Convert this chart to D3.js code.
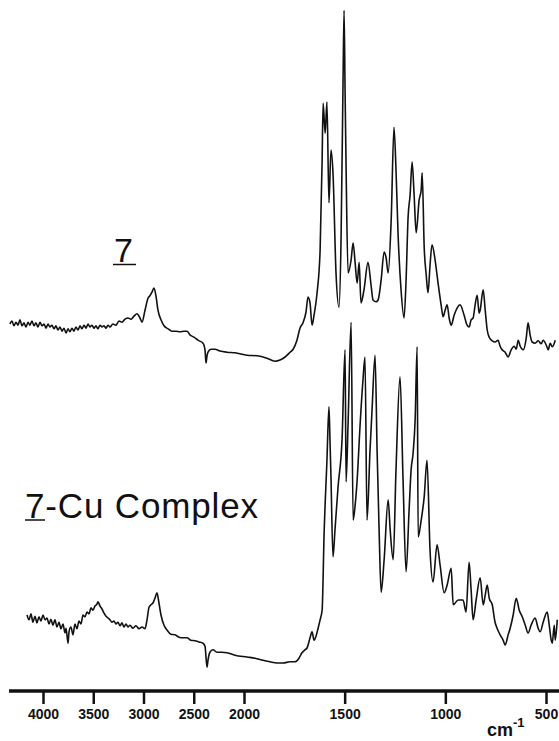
<!DOCTYPE html>
<html><head><meta charset="utf-8">
<script src="https://cdn.jsdelivr.net/npm/d3@7/dist/d3.min.js"></script>
<style>body{margin:0;background:#fff}svg{display:block}</style>
</head><body>
<svg id="chart" width="559" height="741"></svg>
<script>
// Tick labels (cm-1)
const wavenumberTicks = [4000, 3500, 3000, 2500, 2000, 1500, 1000, 500];
const axisBreaks = [4000, 2000, 500];
const axisExtent = [4338, 432];

// Series labels
const seriesLabels = ["7", "7-Cu Complex"];

// Spectrum of 7: [wavenumber cm-1, intensity (arb. units, offset)]
const spectrum7 = [
[4329,61.0],[4309,61.5],[4289,60.7],[4269,61.3],[4249,60.8],[4229,61.7],[4209,60.7],[4189,61.2],
[4169,60.5],[4149,61.3],[4130,60.8],[4110,61.5],[4090,60.7],[4070,61.2],[4050,60.5],[4030,61.3],
[4010,60.7],[3990,61.0],[3970,60.3],[3950,61.0],[3931,60.5],[3911,60.8],[3891,60.2],[3871,60.7],
[3851,60.0],[3831,60.5],[3811,59.8],[3791,60.3],[3771,59.5],[3751,60.2],[3732,59.7],[3712,60.3],
[3692,59.8],[3672,60.5],[3652,60.0],[3632,60.7],[3612,60.2],[3592,60.8],[3572,60.3],[3552,61.0],
[3533,60.5],[3513,60.8],[3493,60.3],[3473,60.7],[3453,60.2],[3433,60.8],[3413,60.5],[3393,60.7],
[3373,60.3],[3353,60.8],[3334,60.5],[3304,61.0],[3274,60.8],[3244,61.5],[3214,61.3],[3184,61.8],
[3154,62.0],[3124,61.8],[3095,62.3],[3065,62.7],[3035,62.0],[3015,61.3],[2985,63.3],[2955,65.3],
[2936,65.7],[2916,66.3],[2896,67.0],[2876,65.7],[2856,63.3],[2826,61.7],[2796,60.7],[2756,60.2],
[2717,59.8],[2677,59.8],[2637,59.7],[2597,59.8],[2567,59.8],[2538,59.2],[2498,58.8],[2458,58.3],
[2408,57.8],[2388,56.7],[2378,54.5],[2368,55.7],[2358,56.3],[2329,56.8],[2289,56.8],[2239,56.5],
[2169,56.3],[2090,56.2],[1985,55.8],[1935,55.7],[1886,55.3],[1846,54.8],[1821,55.0],[1796,55.5],
[1771,56.3],[1756,56.8],[1737,58.3],[1722,60.3],[1707,61.2],[1692,63.0],[1682,65.5],[1672,64.5],
[1662,60.8],[1652,62.5],[1637,66.2],[1622,73.3],[1612,88.3],[1607,97.8],[1597,92.8],[1588,98.0],
[1578,81.2],[1568,90.0],[1558,86.2],[1543,69.5],[1528,63.8],[1518,75.0],[1508,101.7],[1503,113.3],
[1498,100.0],[1493,87.2],[1483,69.5],[1468,71.7],[1458,74.5],[1448,71.2],[1438,67.8],[1428,71.3],
[1419,64.5],[1404,66.7],[1384,71.3],[1369,67.5],[1359,65.0],[1344,64.7],[1334,65.0],[1319,68.3],
[1304,73.0],[1294,72.0],[1284,69.5],[1269,78.3],[1255,93.8],[1245,86.7],[1235,76.2],[1220,66.7],
[1205,62.0],[1195,68.3],[1185,78.8],[1175,82.5],[1165,88.0],[1155,82.5],[1145,76.2],[1130,81.7],
[1120,83.3],[1115,86.2],[1105,73.8],[1095,69.2],[1086,66.2],[1076,70.8],[1066,74.2],[1051,71.7],
[1036,67.8],[1021,64.2],[1011,62.2],[1001,63.3],[991,64.2],[981,62.0],[971,60.8],[956,62.5],
[941,63.7],[927,64.2],[907,62.5],[892,60.8],[882,60.5],[872,61.7],[862,62.0],[852,64.2],
[842,65.8],[832,62.8],[827,63.3],[812,66.7],[802,63.3],[792,60.0],[782,58.8],[767,58.2],
[753,58.0],[738,58.3],[728,57.3],[718,56.7],[703,56.3],[688,55.5],[673,56.7],[658,57.3],
[648,56.8],[638,58.3],[628,57.3],[613,56.7],[598,58.7],[589,61.2],[579,59.2],[569,58.0],
[554,57.8],[539,58.2],[524,57.7],[514,58.3],[499,57.5],[489,56.7],[479,57.8],[469,57.2],[454,58.3]
];

// Spectrum of the 7-Cu complex: [wavenumber cm-1, intensity (arb. units, offset)]
const spectrumCu = [
[4159,12.5],[4139,11.7],[4120,12.7],[4100,11.3],[4080,12.3],[4060,11.2],[4040,12.2],[4020,11.5],
[4000,12.5],[3980,11.7],[3960,12.0],[3940,11.0],[3921,11.8],[3901,10.8],[3881,11.7],[3861,10.5],
[3841,11.3],[3821,10.2],[3801,11.0],[3781,9.5],[3771,10.3],[3751,7.8],[3741,9.7],[3722,10.5],
[3702,9.2],[3682,11.0],[3662,10.2],[3642,11.5],[3622,11.0],[3602,12.5],[3582,12.2],[3562,13.0],
[3542,12.7],[3523,13.7],[3503,13.3],[3483,14.0],[3463,14.3],[3453,14.7],[3433,14.0],[3413,13.5],
[3393,12.8],[3373,12.3],[3353,12.0],[3334,11.7],[3314,11.3],[3294,11.5],[3274,11.0],[3254,11.3],
[3234,10.7],[3214,11.2],[3194,10.5],[3174,11.0],[3154,10.5],[3135,10.8],[3105,10.3],[3075,10.7],
[3045,10.2],[3015,10.5],[2985,10.2],[2965,11.7],[2945,13.8],[2926,14.2],[2906,14.5],[2886,15.3],
[2866,16.2],[2846,14.5],[2826,12.5],[2796,10.8],[2766,10.0],[2727,9.3],[2687,9.2],[2647,8.8],
[2607,8.7],[2567,8.7],[2528,8.3],[2488,8.2],[2448,8.0],[2408,7.8],[2388,7.3],[2368,3.8],
[2358,5.0],[2339,6.3],[2309,6.7],[2269,6.3],[2219,6.3],[2169,6.2],[2090,5.8],[1985,5.5],
[1945,5.3],[1911,5.0],[1871,4.7],[1836,4.5],[1806,4.5],[1771,4.7],[1747,4.7],[1727,5.3],
[1712,6.2],[1697,6.7],[1687,7.0],[1672,8.7],[1662,9.7],[1652,8.3],[1642,9.0],[1632,10.3],
[1622,11.7],[1612,13.3],[1602,26.2],[1588,38.3],[1578,47.2],[1573,41.7],[1568,35.5],[1558,22.2],
[1548,26.7],[1533,33.8],[1513,41.7],[1498,56.7],[1493,34.7],[1483,44.5],[1468,61.3],[1458,28.3],
[1448,30.8],[1438,35.0],[1424,43.8],[1409,51.7],[1399,55.5],[1389,28.3],[1374,40.0],[1364,46.7],
[1349,55.8],[1339,40.0],[1329,26.7],[1319,16.3],[1304,21.7],[1284,31.7],[1274,26.7],[1259,21.7],
[1245,36.7],[1225,52.2],[1210,35.0],[1195,19.7],[1180,30.0],[1170,36.7],[1160,39.5],[1150,45.0],
[1140,57.2],[1135,25.5],[1120,28.3],[1105,32.2],[1091,38.3],[1076,23.3],[1061,18.0],[1041,24.2],
[1026,20.8],[1006,16.2],[991,17.5],[971,20.3],[961,14.2],[936,15.0],[912,15.0],[897,13.0],
[882,21.3],[872,16.7],[862,11.7],[847,15.0],[827,18.7],[812,14.2],[802,15.8],[792,17.5],
[782,15.3],[767,14.2],[753,11.3],[743,10.3],[728,9.2],[713,8.3],[703,7.5],[688,9.2],
[678,10.3],[663,12.5],[648,15.3],[633,13.3],[618,12.2],[603,10.8],[589,9.5],[574,10.8],
[554,12.0],[539,10.3],[529,9.7],[514,11.3],[494,13.0],[484,10.8],[474,8.3],[469,7.8],
[459,10.8],[454,8.3],[444,11.7]
];

const svg = d3.select("#chart");
const x = d3.scaleLinear().domain(axisBreaks).range([43, 244, 546]);
const y = d3.scaleLinear().domain([0, 115]).range([690, 0]);
const axisY = 691;

const line = d3.line().x(d => x(d[0])).y(d => y(d[1])).curve(d3.curveMonotoneX);

svg.selectAll("path.spec").data([spectrum7, spectrumCu]).join("path")
  .attr("class", "spec")
  .attr("d", line)
  .attr("fill", "none").attr("stroke", "#111").attr("stroke-width", 1.6)
  .attr("stroke-linejoin", "round");

// axis
const axis = d3.axisBottom(x).tickValues(wavenumberTicks).tickSize(13).tickPadding(5)
  .tickFormat(d3.format("d"));
const gA = svg.append("g").attr("transform", `translate(0,${axisY})`).call(axis);
gA.select(".domain").remove();
gA.selectAll(".tick line").attr("stroke", "#111").attr("stroke-width", 2.5);
gA.selectAll(".tick text").attr("fill", "#111")
  .style("font-family", "'Liberation Sans', Arial, sans-serif")
  .style("font-weight", "bold").style("font-size", "14px");
gA.append("line").attr("x1", x(axisExtent[0])).attr("x2", x(axisExtent[1]))
  .attr("y1", 0).attr("y2", 0).attr("stroke", "#111").attr("stroke-width", 3.5);

// unit label
const unit = svg.append("text").attr("x", 487).attr("y", 736)
  .style("font-family", "'Liberation Sans', Arial, sans-serif")
  .style("font-weight", "bold").style("font-size", "18px").attr("fill", "#111");
unit.append("tspan").text("cm");
unit.append("tspan").attr("dy", -9).style("font-size", "13px").text("-1");

// series labels
const font = "'Liberation Sans', Arial, Helvetica, sans-serif";
svg.append("text").attr("x", 114).attr("y", 262)
  .style("font-family", font).style("font-size", "34px").attr("fill", "#111")
  .text(seriesLabels[0]);
svg.append("line").attr("x1", 113).attr("x2", 136).attr("y1", 264.5).attr("y2", 264.5)
  .attr("stroke", "#111").attr("stroke-width", 1.5);

svg.append("text").attr("x", 25).attr("y", 518)
  .style("font-family", font).style("font-size", "35px").attr("fill", "#111")
  .attr("textLength", 233).attr("lengthAdjust", "spacing")
  .text(seriesLabels[1]);
svg.append("line").attr("x1", 25).attr("x2", 45).attr("y1", 520).attr("y2", 520)
  .attr("stroke", "#111").attr("stroke-width", 1.5);
</script>
</body></html>
